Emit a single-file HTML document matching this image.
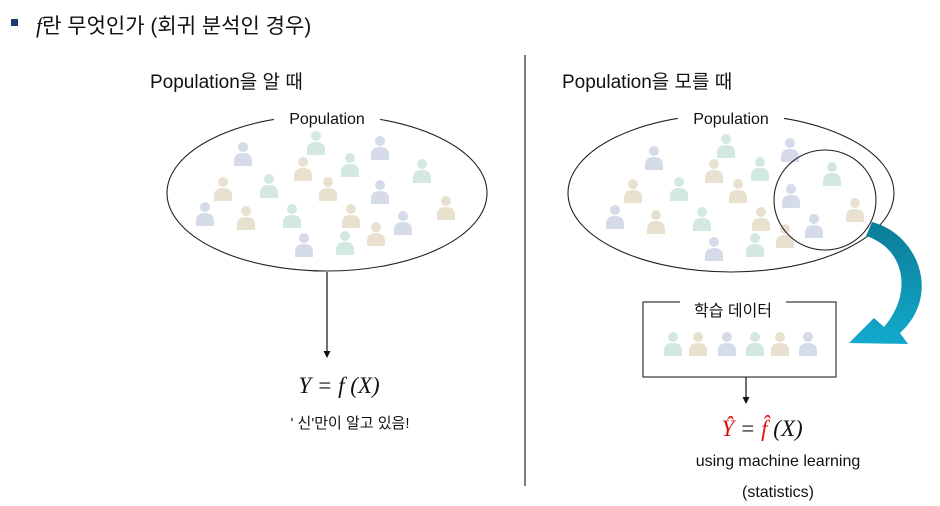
<!DOCTYPE html>
<html><head><meta charset="utf-8"><style>
html,body{margin:0;padding:0;background:#fff;width:940px;height:506px;overflow:hidden}
svg{display:block}
.k{font-family:"Liberation Sans","Noto Sans CJK KR",sans-serif;fill:#111}
.m{font-family:"Liberation Serif","DejaVu Serif",serif;font-style:italic;fill:#111}
</style></head><body>
<svg width="940" height="506" viewBox="0 0 940 506">
<defs>
<linearGradient id="tg" x1="0" y1="0" x2="0" y2="1"><stop offset="0" stop-color="#0b7c96"/><stop offset="1" stop-color="#12a9cc"/></linearGradient>
</defs>
<rect x="11" y="19" width="7" height="7" fill="#1f3a6e"/>
<text x="36" y="33" font-size="21"><tspan class="m" font-size="22">f</tspan><tspan class="k">란 무엇인가 (회귀 분석인 경우)</tspan></text>
<line x1="525" y1="55" x2="525" y2="486" stroke="#222" stroke-width="1.2"/>

<text class="k" x="150" y="88" font-size="19">Population을 알 때</text>
<text class="k" x="562" y="88" font-size="19">Population을 모를 때</text>

<ellipse cx="327" cy="193" rx="160" ry="78" fill="none" stroke="#222" stroke-width="1.1"/>
<rect x="274" y="108" width="106" height="18" fill="#fff"/>
<text class="k" x="327" y="124" font-size="16" text-anchor="middle">Population</text>

<ellipse cx="731" cy="193" rx="163" ry="79" fill="none" stroke="#222" stroke-width="1.1"/>
<rect x="678" y="108" width="106" height="18" fill="#fff"/>
<text class="k" x="731" y="124" font-size="16" text-anchor="middle">Population</text>

<g id="people"></g>
<ellipse cx="825" cy="200" rx="51" ry="50" fill="none" stroke="#222" stroke-width="1.1"/>

<path d="M872 222 C918 234,942 295,900 333 L908 344 L849 343 L874 318 L884 327 C914 292,904 248,866 236 Z" fill="url(#tg)"/>

<rect x="643" y="302" width="193" height="75" fill="none" stroke="#222" stroke-width="1.1"/>
<rect x="680" y="295" width="106" height="16" fill="#fff"/>
<text class="k" x="733" y="316" font-size="16" text-anchor="middle">학습 데이터</text>

<line x1="327" y1="272" x2="327" y2="357" stroke="#111" stroke-width="1.2"/>
<path d="M323.5 351 L330.5 351 L327 358 Z" fill="#111"/>
<line x1="746" y1="377" x2="746" y2="403" stroke="#111" stroke-width="1.2"/>
<path d="M742.5 397 L749.5 397 L746 404 Z" fill="#111"/>

<text x="339" y="393" font-size="23" text-anchor="middle"><tspan class="m">Y</tspan><tspan class="m" font-style="normal">  =  </tspan><tspan class="m">f </tspan><tspan class="m" font-style="normal">(</tspan><tspan class="m">X</tspan><tspan class="m" font-style="normal">)</tspan></text>
<text class="k" x="350" y="428" font-size="15" text-anchor="middle">' 신'만이 알고 있음!</text>

<text x="762" y="436" font-size="23" text-anchor="middle"><tspan class="m" style="fill:#e01010">Ŷ</tspan><tspan class="m" font-style="normal">  =  </tspan><tspan class="m" style="fill:#e01010">f̂ </tspan><tspan class="m" font-style="normal">(</tspan><tspan class="m">X</tspan><tspan class="m" font-style="normal">)</tspan></text>
<text class="k" x="778" y="466" font-size="16" text-anchor="middle">using machine learning</text>
<text class="k" x="778" y="497" font-size="16" text-anchor="middle">(statistics)</text>
</svg>
<script>
const colorMap={b:'#d5dbe9',g:'#d2e8e0',t:'#e8e1cf'};
const leftX=[243,316,380,303,350,422,223,269,328,380,205,246,292,351,446,403,376,304,345];
const leftY=[147,136,141,162,158,164,182,179,182,185,207,211,209,209,201,216,227,238,236];
const leftC=['b','g','b','t','g','g','t','g','t','b','b','t','g','t','t','b','t','b','g'];
const rightX=[654,726,790,714,760,832,633,679,738,791,615,656,702,761,855,814,785,714,755];
const rightY=[151,139,143,164,162,167,184,182,184,189,210,215,212,212,203,219,229,242,238];
const rightC=['b','g','b','t','g','g','t','g','t','b','b','t','g','t','t','b','t','b','g'];
const trainX=[673,698,727,755,780,808];
const trainY=[337,337,337,337,337,337];
const trainC=['g','t','b','g','t','b'];
const g=document.getElementById('people');
const NS='http://www.w3.org/2000/svg';
function person(x,y,c,name){
  const grp=document.createElementNS(NS,'g');
  
  
  const h=document.createElementNS(NS,'circle');
  h.setAttribute('cx',x);h.setAttribute('cy',y);h.setAttribute('r',5);h.setAttribute('fill',colorMap[c]);
  const b=document.createElementNS(NS,'path');
  b.setAttribute('d',`M${x-9} ${y+19} L${x-9} ${y+14} Q${x-9} ${y+6} ${x} ${y+6} Q${x+9} ${y+6} ${x+9} ${y+14} L${x+9} ${y+19} Z`);
  b.setAttribute('fill',colorMap[c]);
  grp.appendChild(h);grp.appendChild(b);g.appendChild(grp);
}
leftX.forEach((x,i)=>person(x,leftY[i],leftC[i],'left-person'));
rightX.forEach((x,i)=>person(x,rightY[i],rightC[i],'right-person'));
trainX.forEach((x,i)=>person(x,trainY[i],trainC[i],'training-person'));
</script>
</body></html>
